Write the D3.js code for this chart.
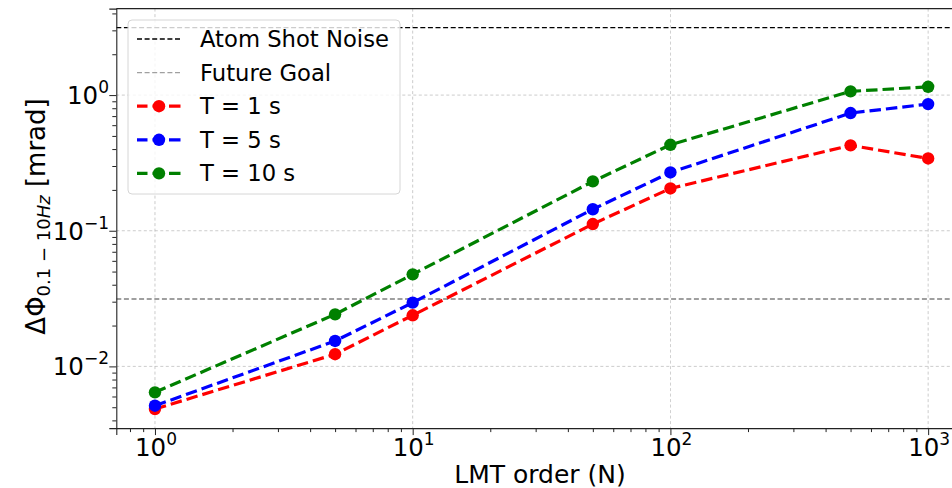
<!DOCTYPE html>
<html>
<head>
<meta charset="utf-8">
<script src="https://cdn.jsdelivr.net/npm/d3@7"></script>
<style>
  html, body { margin: 0; padding: 0; background: #fff; }
  svg { display: block; }
  text { font-family: "DejaVu Sans", sans-serif; fill: #000; }
</style>
</head>
<body>
<svg id="chart" width="952" height="488"></svg>
<script>
// ---- data ----
const lmtOrders = [1, 5, 10, 50, 100, 500, 1000];
const seriesT1  = [0.00485, 0.0123, 0.0238, 0.112, 0.205, 0.426, 0.341];
const seriesT5  = [0.00513, 0.0154, 0.0295, 0.144, 0.269, 0.737, 0.858];
const seriesT10 = [0.00644, 0.0242, 0.0477, 0.231, 0.430, 1.065, 1.151];
const seriesNames = ["T = 1 s", "T = 5 s", "T = 10 s"];
const atomShotNoise = 3.14;
const futureGoal = 0.0314;
const xTicks = [1, 10, 100, 1000];
const yTicks = [0.01, 0.1, 1];
const xTickExp = ["0", "1", "2", "3"];
const yTickExp = ["\u22122", "\u22121", "0"];

// ---- layout ----
const svg = d3.select("#chart");
const L = 116.3, R = 966.8, T = 8.6, B = 428.1;

const allVals = [...seriesT1, ...seriesT5, ...seriesT10, atomShotNoise, futureGoal];
const xl = [Math.log10(d3.min(lmtOrders)), Math.log10(d3.max(lmtOrders))];
const xm = (xl[1] - xl[0]) * 0.05;
const yl = [Math.log10(d3.min(allVals)), Math.log10(d3.max(allVals))];
const ym = (yl[1] - yl[0]) * 0.05;

const x = d3.scaleLog().domain([10 ** (xl[0] - xm), 10 ** (xl[1] + xm)]).range([L, R]);
const y = d3.scaleLog().domain([10 ** (yl[0] - ym), 10 ** (yl[1] + ym)]).range([B, T]);

svg.append("defs").append("clipPath").attr("id", "clip")
  .append("rect").attr("x", L).attr("y", T).attr("width", R - L).attr("height", B - T);

// grid
const grid = svg.append("g").attr("clip-path", "url(#clip)");
grid.selectAll(".gx").data(xTicks).join("line")
  .attr("x1", d => x(d)).attr("x2", d => x(d)).attr("y1", T).attr("y2", B)
  .attr("stroke", "#b0b0b0").attr("stroke-width", 0.8).attr("stroke-dasharray", "3,2.5").attr("opacity", 0.8);
grid.selectAll(".gy").data(yTicks).join("line")
  .attr("y1", d => y(d)).attr("y2", d => y(d)).attr("x1", L).attr("x2", R)
  .attr("stroke", "#b0b0b0").attr("stroke-width", 0.8).attr("stroke-dasharray", "3,2.5").attr("opacity", 0.8);

// reference lines
const plot = svg.append("g").attr("clip-path", "url(#clip)");
plot.append("line").attr("x1", L).attr("x2", R).attr("y1", y(atomShotNoise)).attr("y2", y(atomShotNoise))
  .attr("stroke", "#000").attr("stroke-width", 1.3).attr("stroke-dasharray", "5,2.6");
plot.append("line").attr("x1", L).attr("x2", R).attr("y1", y(futureGoal)).attr("y2", y(futureGoal))
  .attr("stroke", "#808080").attr("stroke-width", 1.4).attr("stroke-dasharray", "5,2.6");

// series
const colors = ["#ff0000", "#0000ff", "#008000"];
const series = [seriesT1, seriesT5, seriesT10];
const line = d3.line().x(d => x(d[0])).y(d => y(d[1]));
series.forEach((s, i) => {
  const pts = lmtOrders.map((n, j) => [n, s[j]]);
  plot.append("path").datum(pts).attr("d", line)
    .attr("fill", "none").attr("stroke", colors[i]).attr("stroke-width", 3.2)
    .attr("stroke-dasharray", "11.5,5");
  plot.selectAll(null).data(pts).join("circle")
    .attr("cx", d => x(d[0])).attr("cy", d => y(d[1])).attr("r", 6.2)
    .attr("fill", colors[i]);
});

// axes
const xAxis = d3.axisBottom(x).tickValues(xTicks).tickSize(7).tickPadding(6).tickFormat(() => "");
svg.append("g").attr("transform", `translate(0,${B})`).call(xAxis);
const xMinor = [];
for (let e = -1; e <= 3; e++) for (let k = 2; k <= 9; k++) {
  const v = k * 10 ** e; if (v >= x.domain()[0] && v <= x.domain()[1]) xMinor.push(v);
}
svg.append("g").attr("transform", `translate(0,${B})`)
  .call(d3.axisBottom(x).tickValues(xMinor).tickSize(4).tickFormat(() => ""))
  .call(g => g.select(".domain").remove());

const yAxis = d3.axisLeft(y).tickValues(yTicks).tickSize(7).tickPadding(6).tickFormat(() => "");
svg.append("g").attr("transform", `translate(${L},0)`).call(yAxis);
const yMinor = [];
for (let e = -3; e <= 0; e++) for (let k = 2; k <= 9; k++) {
  const v = k * 10 ** e; if (v >= y.domain()[0] && v <= y.domain()[1]) yMinor.push(v);
}
svg.append("g").attr("transform", `translate(${L},0)`)
  .call(d3.axisLeft(y).tickValues(yMinor).tickSize(4).tickFormat(() => ""))
  .call(g => g.select(".domain").remove());

svg.selectAll(".domain").attr("stroke", "#222").attr("stroke-width", 1.1);
svg.selectAll(".tick line").attr("stroke", "#222").attr("stroke-width", 1);

// top spine
svg.append("line").attr("x1", L).attr("x2", R).attr("y1", T).attr("y2", T).attr("stroke", "#222").attr("stroke-width", 1.1);

// tick labels with superscripts
xTicks.forEach((v, i) => {
  const t = svg.append("text").attr("x", x(v) + 1).attr("y", 456).attr("text-anchor", "middle")
    .style("font-size", "24.5px");
  t.append("tspan").text("10");
  t.append("tspan").attr("dy", -11).style("font-size", "17px").text(xTickExp[i]);
});
yTicks.forEach((v, i) => {
  const t = svg.append("text").attr("x", 109).attr("y", y(v) + 9).attr("text-anchor", "end")
    .style("font-size", "24.5px");
  t.append("tspan").text("10");
  t.append("tspan").attr("dy", -11).style("font-size", "17px").text(yTickExp[i]);
});

// axis labels
svg.append("text").attr("x", 540).attr("y", 483).attr("text-anchor", "middle")
  .style("font-size", "25px").text("LMT order (N)");

const yl2 = svg.append("text").attr("transform", `translate(44.5,216.5) rotate(-90)`)
  .attr("text-anchor", "middle").style("font-size", "26px");
yl2.append("tspan").text("\u0394\u03A6");
yl2.append("tspan").attr("dy", 5.5).style("font-size", "18px").text("0.1 \u2212 10");
yl2.append("tspan").attr("dy", 0).style("font-size", "18px").style("font-style", "italic").text("Hz");
yl2.append("tspan").attr("dy", -5.5).text(" [mrad]");

// legend
const lg = svg.append("g");
lg.append("rect").attr("x", 128).attr("y", 20).attr("width", 272).attr("height", 174)
  .attr("rx", 4).attr("fill", "#fff").attr("fill-opacity", 0.8)
  .attr("stroke", "#d6d6d6").attr("stroke-width", 1);
const legendItems = [
  { label: "Atom Shot Noise", color: "#000", dash: "5,2.6", w: 1.3, marker: false },
  { label: "Future Goal", color: "#a0a0a0", dash: "5,2.6", w: 1.1, marker: false },
  ...seriesNames.map((n, i) => ({ label: n, color: colors[i], dash: "11.5,5", w: 3.2, marker: true }))
];
legendItems.forEach((it, i) => {
  const cy = 39 + i * 33.6;
  lg.append("line").attr("x1", 137).attr("x2", 181).attr("y1", cy).attr("y2", cy)
    .attr("stroke", it.color).attr("stroke-width", it.w).attr("stroke-dasharray", it.dash)
    .attr("stroke-dashoffset", it.marker ? 1 : 0);
  if (it.marker) lg.append("circle").attr("cx", 159).attr("cy", cy).attr("r", 6.2).attr("fill", it.color);
  lg.append("text").attr("x", 200).attr("y", cy + 8).style("font-size", "22.7px").text(it.label);
});
</script>
</body>
</html>
